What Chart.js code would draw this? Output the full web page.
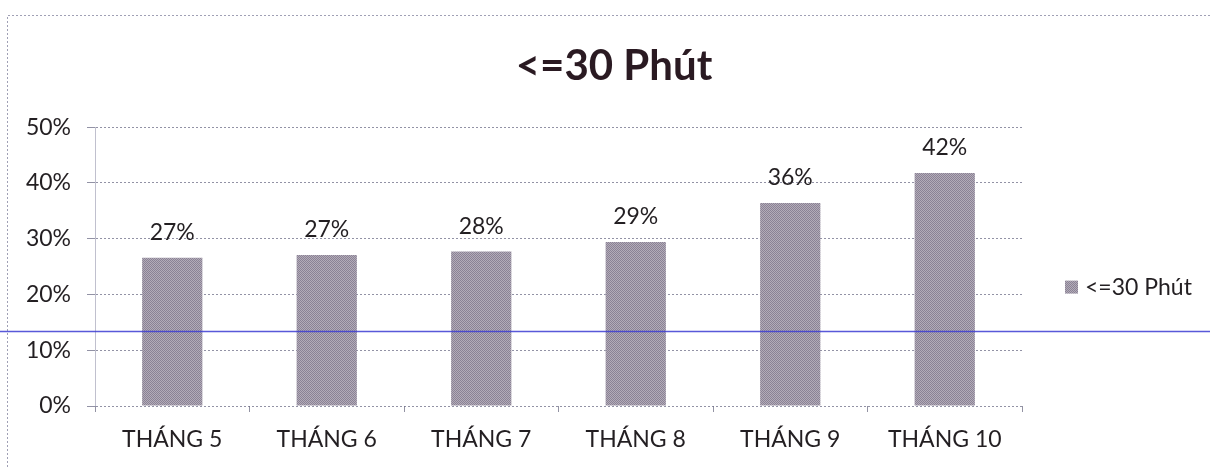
<!DOCTYPE html>
<html>
<head>
<meta charset="utf-8">
<script src="https://cdn.jsdelivr.net/npm/chart.js@4.4.1/dist/chart.umd.min.js"></script>
<style>
html,body{margin:0;padding:0;background:#fff;}
#wrap{width:1210px;height:467px;}
</style>
</head>
<body>
<div id="wrap"><canvas id="c" width="1210" height="467"></canvas></div>
<script>
const categories = ['THÁNG 5', 'THÁNG 6', 'THÁNG 7', 'THÁNG 8', 'THÁNG 9', 'THÁNG 10'];
const seriesName = '<=30 Phút';
const values = [26.6, 27.1, 27.7, 29.4, 36.4, 41.8];
const yTicks = [0, 10, 20, 30, 40, 50];
const chartTitle = '<=30 Phút';

const FONT = 'Lato, "DejaVu Sans", sans-serif';
const TEXT = '#231f22';

function makePattern() {
  const p = document.createElement('canvas');
  p.width = 2; p.height = 2;
  const g = p.getContext('2d');
  g.fillStyle = '#b3acb8'; g.fillRect(0, 0, 2, 2);
  g.fillStyle = '#8a8295'; g.fillRect(0, 0, 1, 1); g.fillRect(1, 1, 1, 1);
  return document.getElementById('c').getContext('2d').createPattern(p, 'repeat');
}
const barFill = makePattern();

const decor = {
  id: 'decor',
  beforeDraw(chart) {
    const ctx = chart.ctx;
    ctx.save();
    ctx.strokeStyle = 'rgba(120,120,150,0.7)';
    ctx.lineWidth = 1;
    ctx.setLineDash([2, 2]);
    ctx.beginPath();
    ctx.moveTo(7.5, chart.height);
    ctx.lineTo(7.5, 15.5);
    ctx.lineTo(chart.width, 15.5);
    ctx.stroke();
    ctx.restore();
  },
  afterDatasetsDraw(chart) {
    const ctx = chart.ctx;
    const meta = chart.getDatasetMeta(0);
    ctx.save();
    ctx.font = '23px ' + FONT;
    ctx.fillStyle = TEXT;
    ctx.textAlign = 'center';
    ctx.textBaseline = 'middle';
    meta.data.forEach((bar, i) => {
      ctx.fillText(Math.round(values[i]) + '%', bar.x, bar.y - 25);
    });
    ctx.restore();
  },
  afterDraw(chart) {
    const ctx = chart.ctx;
    const area = chart.chartArea;
    // legend
    const ds = chart.data.datasets[0];
    const ly = (area.top + area.bottom) / 2 + 21;
    const lx = area.right + 43;
    ctx.save();
    ctx.fillStyle = ds.backgroundColor;
    ctx.fillRect(lx, ly - 7, 13, 13);
    ctx.font = '23px ' + FONT;
    ctx.fillStyle = TEXT;
    ctx.textAlign = 'left';
    ctx.textBaseline = 'middle';
    ctx.fillText(ds.label, lx + 20, ly);
    // scanner line
    const sy = Math.round(chart.scales.y.getPixelForValue(13.5)) + 0.5;
    ctx.strokeStyle = 'rgba(60,60,210,0.85)';
    ctx.lineWidth = 1.5;
    ctx.beginPath();
    ctx.moveTo(0, sy);
    ctx.lineTo(chart.width, sy);
    ctx.stroke();
    ctx.restore();
  }
};

new Chart(document.getElementById('c'), {
  type: 'bar',
  data: {
    labels: categories,
    datasets: [{
      label: seriesName,
      data: values,
      backgroundColor: barFill,
      borderWidth: 0,
      categoryPercentage: 1,
      barPercentage: 0.39
    }]
  },
  options: {
    responsive: false,
    animation: false,
    devicePixelRatio: 1,
    layout: { padding: { left: 18, right: 0, top: 0, bottom: 0 } },
    plugins: {
      legend: { display: false },
      tooltip: { enabled: false },
      title: {
        display: true,
        text: chartTitle,
        color: '#2a1a22',
        font: { family: FONT, size: 42, weight: 'bold', lineHeight: 1.2 },
        padding: { top: 41, bottom: 35.8 }
      }
    },
    scales: {
      x: {
        grid: { drawOnChartArea: false, drawTicks: true, tickLength: 6, tickColor: 'rgba(120,120,140,0.8)', offset: true },
        border: { display: false },
        ticks: { color: TEXT, font: { family: FONT, size: 23, lineHeight: 1.0 }, padding: 16 }
      },
      y: {
        min: 0, max: 50,
        afterFit(scale) { scale.width = 77; },
        afterBuildTicks(scale) { scale.ticks = yTicks.map(v => ({ value: v })); },
        grid: { color: 'rgba(110,110,135,0.75)', lineWidth: 1, tickLength: 8, tickColor: 'rgba(110,110,135,0.75)' },
        border: { display: true, color: 'rgba(140,140,165,0.55)', dash: [2, 2] },
        ticks: { color: TEXT, font: { family: FONT, size: 23, lineHeight: 1.2 }, padding: 16, callback: v => v + '%' }
      },
      yr: {
        position: 'right',
        display: true,
        min: 0, max: 50,
        afterFit(scale) { scale.width = 188; },
        grid: { display: false, drawTicks: false },
        border: { display: false },
        ticks: { display: false }
      }
    }
  },
  plugins: [decor]
});
</script>
</body>
</html>
